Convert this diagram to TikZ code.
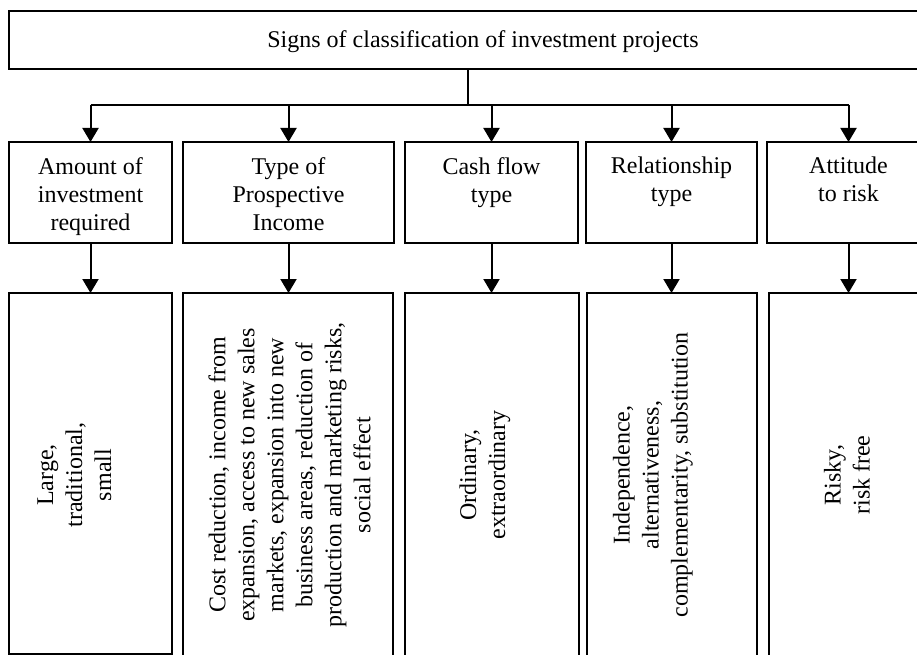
\documentclass[tikz,border=0pt]{standalone}
\usepackage{fontspec}
\setmainfont{Liberation Serif}
\usetikzlibrary{arrows.meta}
\begin{document}
\begin{tikzpicture}[x=1pt,y=-1pt,
  box/.style={draw, line width=1.1pt, rectangle, inner sep=0pt, outer sep=0pt},
  lbl/.style={font=\fontsize{24}{28}\selectfont, align=center, inner sep=0pt},
  vlbl/.style={font=\fontsize{24}{29}\selectfont, align=center, inner sep=0pt, rotate=90},
  conn/.style={line width=2pt, -{Triangle[width=16pt,length=14pt]}},
  wire/.style={line width=2pt}]
\useasboundingbox (0,0) rectangle (917,655);
\clip (0,0) rectangle (917,655);

% top box
\node[box, minimum width=948pt, minimum height=58pt] (top) at (483,40) {};
\node[lbl, anchor=base] (title) at (483,47.5) {Signs of classification of investment projects};

% middle boxes
\node[box, minimum width=163pt, minimum height=101pt] (m1) at (90.5,192.5) {};
\node[box, minimum width=211pt, minimum height=101pt] (m2) at (288.5,192.5) {};
\node[box, minimum width=173pt, minimum height=101pt] (m3) at (491.5,192.5) {};
\node[box, minimum width=171pt, minimum height=101pt] (m4) at (671.5,192.5) {};
\node[box, minimum width=163pt, minimum height=101pt] (m5) at (848.5,192.5) {};

\node[lbl, anchor=north] (t1) at (90.5,157) {Amount of\\investment\\required};
\node[lbl, anchor=north] (t2) at (288.5,157) {Type of\\Prospective\\Income};
\node[lbl, anchor=north] (t3) at (491.5,157) {Cash flow\\type};
\node[lbl, anchor=north] (t4) at (671.5,157) {Relationship\\type};
\node[lbl, anchor=north] (t5) at (848.5,157) {Attitude\\to risk};

% bottom boxes
\node[box, minimum width=163pt, minimum height=361pt] (b1) at (90.5,473.5) {};
\node[box, minimum width=210pt, minimum height=367pt] (b2) at (288,476.5) {};
\node[box, minimum width=174pt, minimum height=367pt] (b3) at (492,476.5) {};
\node[box, minimum width=170pt, minimum height=367pt] (b4) at (672,476.5) {};
\node[box, minimum width=161pt, minimum height=367pt] (b5) at (849.5,476.5) {};

\node[vlbl] (v1) at (74.5,475) {Large,\\traditional,\\small};
\node[vlbl] (v2) at (289.5,475) {Cost reduction, income from\\expansion, access to new sales\\markets, expansion into new\\business areas, reduction of\\production and marketing risks,\\social effect};
\node[vlbl] (v3) at (485,475) {Ordinary,\\extraordinary};
\node[vlbl] (v4) at (653,475) {Independence,\\alternativeness,\\complementarity, substitution};
\node[vlbl] (v5) at (847,475) {Risky,\\risk free};

% connectors
\coordinate (bar) at (468,105);
\draw[wire] (top.south -| bar) -- (bar);
\draw[wire] (m1.north |- bar) -- (m5.north |- bar);
\foreach \i in {1,...,5} {
  \draw[conn] (m\i.north |- bar) -- (m\i.north);
  \draw[conn] (m\i.south) -- (m\i.south |- b\i.north);
}
\end{tikzpicture}
\end{document}
